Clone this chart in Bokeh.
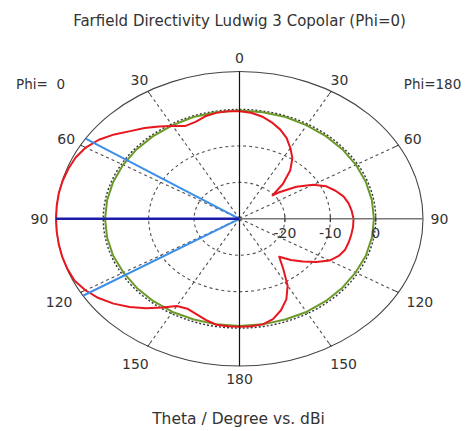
import numpy as np
from bokeh.plotting import figure
from bokeh.models import Range1d, Label
from bokeh.embed import file_html
from bokeh.resources import INLINE

# ---------------- data ----------------
title_text = "Farfield Directivity Ludwig 3 Copolar (Phi=0)"
axis_text = "Theta / Degree vs. dBi"
phi_left_text = "Phi= \u00a00"
phi_right_text = "Phi=180"

r_min = -30.0          # dB at centre
r_max = 10.4           # dB at outer circle
grid_db = [-20, -10]   # dashed rings
zero_db = 0            # dotted ring
radial_tick_labels = ["-20", "-10", "0"]
radial_tick_values = [-20, -10, 0]
angle_ticks = [0, 30, 60, 90, 120, 150, 180]

# red: directivity, Phi = 0 (left half)
red_theta_phi0 = [0, 5, 10, 15, 20, 25, 30, 35, 40, 45, 50, 55, 60, 65, 70, 75, 80, 85, 90,
                  95, 100, 105, 110, 115, 120, 125, 130, 135, 140, 145, 150, 155, 160, 165, 170, 175, 180]
red_phi0 = [-0.5, -0.4, -0.5, -0.9, -1.7, -1.9, -0.6, 0.9, 2.5, 4.0, 6.0, 7.8, 9.1, 9.8, 10.1, 10.3, 10.4, 10.4, 10.4,
            10.4, 10.4, 10.4, 10.3, 10.1, 9.2, 7.9, 6.2, 4.2, 2.0, -0.3, -2.4, -2.8, -2.2, -1.3, -0.5, -0.4, -0.4]

# red: directivity, Phi = 180 (right half)
red_theta_phi180 = [0, 5, 10, 15, 20, 25, 30, 35, 40, 45, 48.5, 50, 55, 60, 65, 70, 75, 80, 85, 90,
                    95, 100, 105, 110, 115, 120, 125, 130, 135, 140, 145, 150, 155, 160, 165, 170, 175, 180]
red_phi180 = [-0.5, -0.8, -1.5, -2.6, -3.9, -5.5, -7.6, -9.7, -12.6, -16.5, -20.3, -18.8, -14.7, -11.3, -8.9, -7.5, -6.3, -5.6, -5.2, -4.9,
              -4.9, -5.0, -5.1, -5.25, -5.9, -7.1, -9.4, -11.8, -14.0, -16.4, -13.2, -8.8, -5.6, -3.3, -1.5, -0.6, -0.4, -0.4]

# green: reference curve
green_theta = [0, 10, 20, 30, 40, 50, 60, 70, 80, 90, 100, 110, 120, 130, 140, 150, 160, 170, 180]
green_phi0 = [-0.3, -0.3, -0.3, -0.4, -0.4, -0.4, -0.4, -0.4, -0.4, -0.4, -0.4, -0.4, -0.5, -0.5, -0.5, -0.5, -0.6, -0.6, -0.6]
green_phi180 = [-0.3, -0.3, -0.3, -0.4, -0.4, -0.4, -0.4, -0.4, -0.4, -0.4, -0.4, -0.4, -0.5, -0.5, -0.5, -0.5, -0.6, -0.6, -0.6]

main_lobe_theta = 90.0
beam_edges_theta = [57.0, 121.5]

# ---------------- layout ----------------
W, H = 470, 430
cx_px, cy_px = 239.0, 218.3     # centre inside frame (from top-left)
rx_px, ry_px = 183.5, 147.3     # outer circle half-axes in px
R = r_max - r_min
sx, sy = rx_px / R, ry_px / R

p = figure(width=W, height=H, output_backend="svg", toolbar_location=None,
           x_range=Range1d(-cx_px / sx, (W - cx_px) / sx),
           y_range=Range1d(-(H - cy_px) / sy, cy_px / sy),
           min_border=0, min_border_left=0, min_border_right=0,
           min_border_top=0, min_border_bottom=0)
p.axis.visible = False
p.grid.visible = False
p.outline_line_color = None
p.background_fill_color = "white"
p.border_fill_color = "white"


def rho(v):
    return np.clip(np.asarray(v, dtype=float) - r_min, 0, None)


def xy(theta, vals, side):
    t = np.radians(np.asarray(theta, dtype=float))
    r = rho(vals)
    return side * r * np.sin(t), r * np.cos(t)


FONT = "DejaVu Sans"
TXT = "#333333"

# grid rings
for g in grid_db:
    d = 2 * rho(g)
    p.ellipse(x=0, y=0, width=float(d), height=float(d), fill_color=None,
              line_color="#505050", line_dash="3 3", line_width=1.1)
dz = 2 * rho(zero_db)
p.ellipse(x=0, y=0, width=float(dz), height=float(dz), fill_color=None,
          line_color="#333333", line_dash="2 2", line_width=1.4)

# spokes
for side in (-1, 1):
    for a in (30, 60, 120, 150):
        t = np.radians(a)
        p.line([0, side * R * np.sin(t)], [0, R * np.cos(t)], line_color="#505050",
               line_dash="3 3", line_width=1.1)
        p.line([side * R * 0.975 * np.sin(t), side * R * np.sin(t)],
               [R * 0.975 * np.cos(t), R * np.cos(t)], line_color="#333333", line_width=1)

# outer circle
p.ellipse(x=0, y=0, width=2 * R, height=2 * R, fill_color=None, line_color="#444444", line_width=1.1)

# green curves
for th, vals, side in ((green_theta, green_phi0, -1), (green_theta, green_phi180, 1)):
    x, y = xy(th, vals, side)
    p.line(x, y, line_color="#6b9a2a", line_width=2)

# red curves
for th, vals, side in ((red_theta_phi0, red_phi0, -1), (red_theta_phi180, red_phi180, 1)):
    x, y = xy(th, vals, side)
    p.line(x, y, line_color="#e8161e", line_width=2, line_join="round")

# axes
p.line([0, R], [0, 0], line_color="#777777", line_width=1.5)
p.line([-R, 0], [0, 0], line_color="#777777", line_width=1.5)
p.line([0, 0], [-R, R], line_color="#111111", line_width=1.2)

# radial ticks on horizontal axis
for v in radial_tick_values:
    p.line([rho(v), rho(v)], [-0.9, 0.9], line_color="#333333", line_width=1)

# blue marker lines
for a in beam_edges_theta:
    t = np.radians(a)
    p.line([0, -R * np.sin(t)], [0, R * np.cos(t)], line_color="#3b8fe8", line_width=2)
t = np.radians(main_lobe_theta)
p.line([0, -R * np.sin(t)], [0, R * np.cos(t)], line_color="#1c1ca8", line_width=2.4)

# angle labels
lab_x, lab_y, lab_t = [], [], []
for side in (-1, 1):
    for a in angle_ticks:
        if side == 1 and a in (0, 180):
            continue
        f = 1.135 if a in (120, 150) else 1.09
        t = np.radians(a)
        lab_x.append(side * R * f * np.sin(t))
        lab_y.append(R * f * np.cos(t))
        lab_t.append(str(a))
p.text(x=lab_x, y=lab_y, text=lab_t, text_align="center", text_baseline="middle",
       text_font_size="14px", text_color=TXT, text_font={"value": FONT})

# radial labels
p.text(x=[float(rho(v)) for v in radial_tick_values], y=[0] * 3, text=radial_tick_labels,
       text_align="center", text_baseline="top", y_offset=9,
       text_font_size="14px", text_color=TXT, text_font={"value": FONT})

# texts in screen units
p.add_layout(Label(x=cx_px, y=H - 20, x_units="screen", y_units="screen", text=title_text,
                   text_align="center", text_baseline="middle", text_font=FONT,
                   text_font_size="15px", text_color=TXT))
p.add_layout(Label(x=40, y=H - 83, x_units="screen", y_units="screen", text=phi_left_text,
                   text_align="center", text_baseline="middle", text_font=FONT,
                   text_font_size="13.5px", text_color=TXT))
p.add_layout(Label(x=432, y=H - 83, x_units="screen", y_units="screen", text=phi_right_text,
                   text_align="center", text_baseline="middle", text_font=FONT,
                   text_font_size="13.5px", text_color=TXT))
p.add_layout(Label(x=cx_px - 1, y=H - 418, x_units="screen", y_units="screen", text=axis_text,
                   text_align="center", text_baseline="middle", text_font=FONT,
                   text_font_size="15.5px", text_color=TXT))

open("out.html", "w").write(file_html(p, INLINE))
